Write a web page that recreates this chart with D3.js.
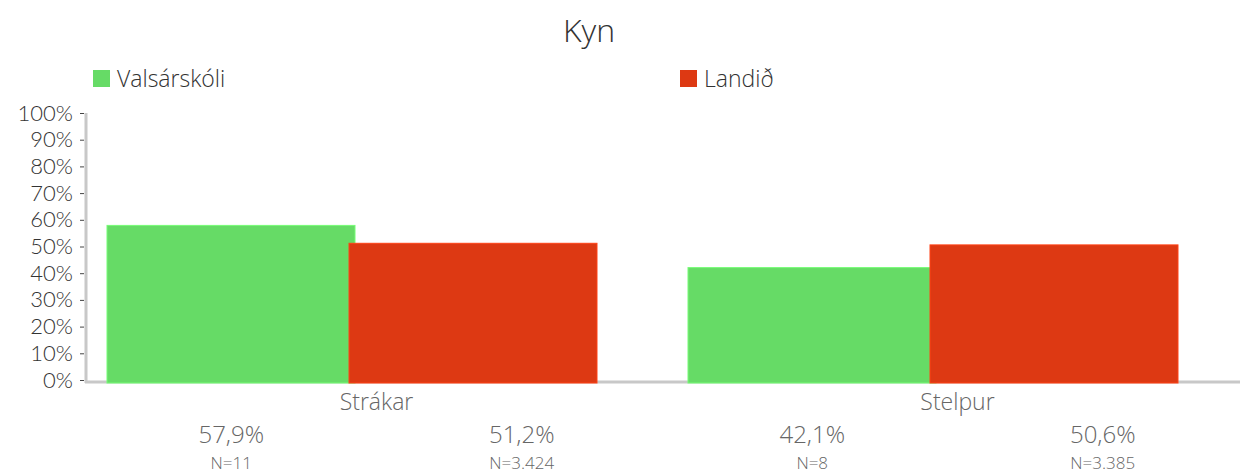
<!DOCTYPE html>
<html>
<head>
<meta charset="utf-8">
<script src="https://cdn.jsdelivr.net/npm/d3@7"></script>
<style>
  body { margin: 0; background: #fff; }
  text { font-family: "Open Sans", Lato, sans-serif; font-weight: 300; }
</style>
</head>
<body>
<svg id="chart" width="1249" height="475"></svg>
<script>
var categories = ["Strákar", "Stelpur"];
var series = ["Valsárskóli", "Landið"];
var colors = ["#66db66", "#dd3913"];
var valsarskoli = [57.9, 42.1];
var landid = [51.2, 50.6];
var countsValsarskoli = ["N=11", "N=8"];
var countsLandid = ["N=3.424", "N=3.385"];
var yTicks = [0, 10, 20, 30, 40, 50, 60, 70, 80, 90, 100];

var values = [valsarskoli, landid];
var counts = [countsValsarskoli, countsLandid];

var svg = d3.select("#chart");
var fmt = function (v) { return String(v.toFixed(1)).replace(".", ",") + "%"; };

var x0 = d3.scaleBand().domain(categories).range([86, 1248]);
var x1 = d3.scaleBand().domain(series).range([21, 505]);
var xl = d3.scaleBand().domain(series).range([0, x0.bandwidth()]);
var y = d3.scaleLinear().domain([0, 100]).range([380, 113]);

// title
svg.append("text")
  .attr("x", 589).attr("y", 42)
  .attr("text-anchor", "middle")
  .attr("font-size", 32)
  .attr("fill", "#333")
  .text("Kyn");

// legend
var legend = svg.selectAll(".legend")
  .data(series)
  .enter().append("g")
  .attr("class", "legend")
  .attr("transform", function (d, i) { return "translate(" + (93 + i * 587) + ",70)"; });
legend.append("rect")
  .attr("width", 17).attr("height", 17)
  .attr("fill", function (d, i) { return colors[i]; });
legend.append("text")
  .attr("x", 24).attr("y", 17)
  .attr("font-size", 23)
  .attr("fill", "#333")
  .text(function (d) { return d; });

// y axis
var yAxis = svg.append("g")
  .attr("class", "axis")
  .attr("transform", "translate(86,0)")
  .call(d3.axisLeft(y).tickValues(yTicks).tickSize(5).tickPadding(8)
    .tickFormat(function (d) { return d + "%"; }));
yAxis.select(".domain").remove();
yAxis.selectAll(".tick line").attr("stroke", "#444").attr("x1", -6).attr("x2", -2);
yAxis.selectAll(".tick text")
  .attr("font-size", 22)
  .attr("fill", "#333")
  .attr("font-family", null)
  .style("font-family", "Lato, sans-serif")
  .style("font-weight", 300);

svg.append("line")
  .attr("x1", 86).attr("x2", 86)
  .attr("y1", y(100)).attr("y2", 383)
  .attr("stroke", "#c8c8c8").attr("stroke-width", 3);
svg.append("line")
  .attr("x1", 85).attr("x2", 1240)
  .attr("y1", 382).attr("y2", 382)
  .attr("stroke", "#c8c8c8").attr("stroke-width", 3);

// bars
var groups = svg.selectAll(".group")
  .data(categories)
  .enter().append("g")
  .attr("class", "group")
  .attr("transform", function (d) { return "translate(" + x0(d) + ",0)"; });

groups.selectAll("rect")
  .data(function (d, ci) {
    return series.map(function (s, si) { return { s: s, si: si, v: values[si][ci] }; });
  })
  .enter().append("rect")
  .attr("x", function (d) { return x1(d.s); })
  .attr("y", function (d) { return y(d.v); })
  .attr("width", x1.bandwidth() + 6)
  .attr("height", function (d) { return 383 - y(d.v); })
  .attr("fill", function (d) { return colors[d.si]; })
  .attr("stroke", function (d) { return d3.color(colors[d.si]).brighter(0.4); })
  .attr("stroke-width", 1);

// category labels
groups.append("text")
  .attr("x", x0.bandwidth() / 2)
  .attr("y", 410)
  .attr("text-anchor", "middle")
  .attr("font-size", 23)
  .attr("fill", "#666")
  .text(function (d) { return d; });

// value + N labels
groups.each(function (cat, ci) {
  var g = d3.select(this);
  series.forEach(function (s, si) {
    var cx = xl(s) + xl.bandwidth() / 2;
    g.append("text")
      .attr("x", cx).attr("y", 443)
      .attr("text-anchor", "middle")
      .attr("font-size", 24)
      .attr("fill", "#666")
      .text(fmt(values[si][ci]));
    g.append("text")
      .attr("x", cx).attr("y", 469)
      .attr("text-anchor", "middle")
      .attr("font-size", 17)
      .attr("fill", "#666")
      .text(counts[si][ci]);
  });
});
</script>
</body>
</html>
